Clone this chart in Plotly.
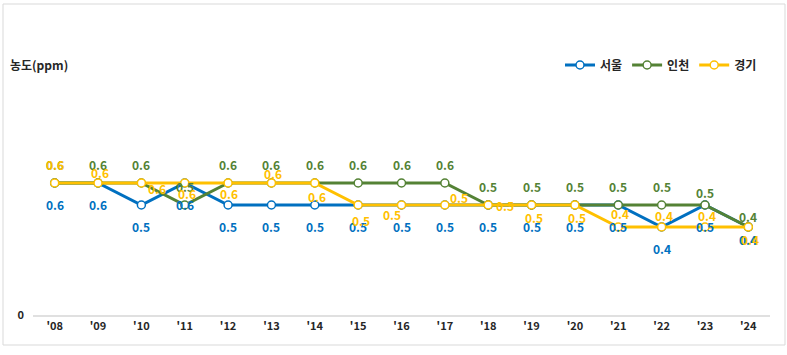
import plotly.graph_objects as go

years = ["'08", "'09", "'10", "'11", "'12", "'13", "'14", "'15", "'16",
         "'17", "'18", "'19", "'20", "'21", "'22", "'23", "'24"]
seoul = [0.6, 0.6, 0.5, 0.6, 0.5, 0.5, 0.5, 0.5, 0.5, 0.5, 0.5, 0.5, 0.5, 0.5, 0.4, 0.5, 0.4]
incheon = [0.6, 0.6, 0.6, 0.5, 0.6, 0.6, 0.6, 0.6, 0.6, 0.6, 0.5, 0.5, 0.5, 0.5, 0.5, 0.5, 0.4]
gyeonggi = [0.6, 0.6, 0.6, 0.6, 0.6, 0.6, 0.6, 0.5, 0.5, 0.5, 0.5, 0.5, 0.5, 0.4, 0.4, 0.4, 0.4]
series_names = ["서울", "인천", "경기"]

# styles
colors = ["#0070C0", "#548235", "#FFC000"]
# label offsets (pixels) per series/point: (dx, dy) with dy positive = down
seoul_off = [(0, 21)] * 16 + [(0, 12)]
incheon_off = [(0, -19)] * 10 + [(0, -19)] * 5 + [(0, -13), (0, -11)]
gyeonggi_off = [(0, -19), (2, -11), (16, 5), (2, 10), (1, 10), (2, -10), (2, 13),
                (3, 15), (-10, 9), (14, -8), (17, 0), (2, 12), (2, 12),
                (2, -14), (2, -12), (2, -12), (2, 12)]

W, H = 787, 355
ml, mr, mt, mb = 33, 17, 95, 40
pw, ph = W - ml - mr, H - mt - mb
FONT = "Noto Sans CJK KR"

fig = go.Figure()
annos = []
for name, vals, col in zip(series_names, [seoul, incheon, gyeonggi], colors):
    fig.add_trace(go.Scatter(
        x=years, y=vals, name=name, mode="lines+markers",
        line=dict(color=col, width=3),
        marker=dict(symbol="circle", size=8, color="white",
                    line=dict(color=col, width=1.5)),
    ))
for name, vals, col, offs in zip(series_names, [seoul, incheon, gyeonggi], colors,
                                 [seoul_off, incheon_off, gyeonggi_off]):
    for x, v, (dx, dy) in zip(years, vals, offs):
        annos.append(dict(x=x, y=v, xref="x", yref="y", text=f"{v:.1f}",
                          showarrow=False, xshift=dx, yshift=-dy,
                          font=dict(family=FONT, size=12, color=col, weight="bold")))

def px_x(p):
    return (p - ml) / pw

def px_y(p):
    return (H - mb - p) / ph

annos.append(dict(x=px_x(8), y=px_y(65), xref="paper", yref="paper", text="농도(ppm)",
                  showarrow=False, xanchor="left", yanchor="middle",
                  font=dict(family=FONT, size=12, color="#262626", weight="bold")))

shapes = [dict(type="rect", xref="paper", yref="paper",
               x0=px_x(3), x1=px_x(785), y0=px_y(345), y1=px_y(4),
               line=dict(color="#D9D9D9", width=1), layer="below")]

fig.update_layout(
    width=W, height=H,
    margin=dict(l=ml, r=mr, t=mt, b=mb),
    paper_bgcolor="white", plot_bgcolor="white",
    showlegend=True,
    legend=dict(orientation="h", x=px_x(762), xanchor="right", y=px_y(65), yanchor="middle",
                font=dict(family=FONT, size=12, color="#262626", weight="bold"),
                itemwidth=30, tracegroupgap=0, bgcolor="rgba(0,0,0,0)"),
    xaxis=dict(type="category", showgrid=False, showline=True, linecolor="#E0E0E0",
               linewidth=2, ticks="", tickfont=dict(family=FONT, size=11, color="#262626", weight="bold"),
               range=[-0.5, len(years) - 0.5], fixedrange=True),
    yaxis=dict(range=[0, 1.0], tickvals=[0], ticktext=["0"], showgrid=False,
               zeroline=False, showline=False, ticks="",
               tickfont=dict(family=FONT, size=11, color="#262626", weight="bold"),
               ticklabelstandoff=8),
    annotations=annos, shapes=shapes,
)
fig.write_html("out.html", config={"displayModeBar": False},
               post_script="document.body.style.margin='0';")
